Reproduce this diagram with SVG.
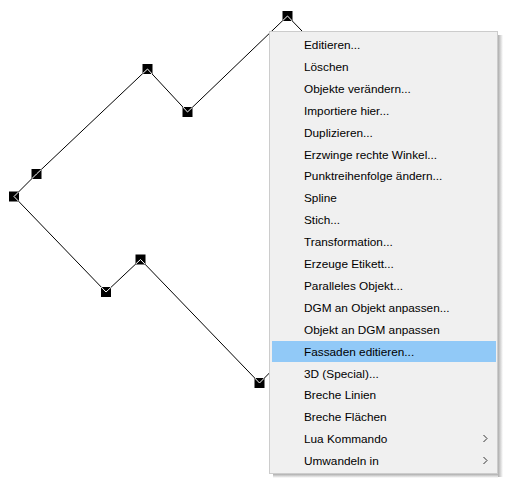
<svg xmlns="http://www.w3.org/2000/svg" width="509" height="489" viewBox="0 0 509 489">
<style>
.ln{fill:none;stroke:#000;stroke-width:1}
.lw{fill:none;stroke:#fff;stroke-width:1}
.mk{fill:#000}
.it{font-family:"Liberation Sans",Arial,sans-serif;font-size:11.8px;fill:#000}
.chev{fill:none;stroke:#333;stroke-width:1}
</style>
<defs>
<clipPath id="mkclip">
<rect x="282.5" y="11" width="10" height="10"/>
<rect x="142.5" y="64" width="10" height="10"/>
<rect x="182.5" y="107" width="10" height="10"/>
<rect x="31.5" y="169" width="10" height="10"/>
<rect x="9" y="191.5" width="10" height="10"/>
<rect x="101" y="287" width="10" height="10"/>
<rect x="135.5" y="254.5" width="10" height="10"/>
<rect x="254.5" y="378" width="10" height="10"/>
</clipPath>
<linearGradient id="shr" x1="0" y1="0" x2="1" y2="0">
<stop offset="0" stop-color="#777" stop-opacity="0.6"/>
<stop offset="1" stop-color="#777" stop-opacity="0"/>
</linearGradient>
<linearGradient id="shb" x1="0" y1="0" x2="0" y2="1">
<stop offset="0" stop-color="#777" stop-opacity="0.6"/>
<stop offset="1" stop-color="#777" stop-opacity="0"/>
</linearGradient>
</defs>
<rect width="509" height="489" fill="#fff"/>
<g id="connectors">
<polyline class="ln" points="330,60 287.5,16 187.5,112 147.5,69 36.5,174 14,196.5 106,292 140.5,259.5 259.5,383 300,342"/>
</g>
<g id="n1"><rect class="mk" x="282.5" y="11" width="10" height="10"/></g>
<g id="n2"><rect class="mk" x="142.5" y="64" width="10" height="10"/></g>
<g id="n3"><rect class="mk" x="182.5" y="107" width="10" height="10"/></g>
<g id="n4"><rect class="mk" x="31.5" y="169" width="10" height="10"/></g>
<g id="n5"><rect class="mk" x="9" y="191.5" width="10" height="10"/></g>
<g id="n6"><rect class="mk" x="101" y="287" width="10" height="10"/></g>
<g id="n7"><rect class="mk" x="135.5" y="254.5" width="10" height="10"/></g>
<g id="n8"><rect class="mk" x="254.5" y="378" width="10" height="10"/></g>
<g clip-path="url(#mkclip)">
<polyline class="lw" points="330,60 287.5,16 187.5,112 147.5,69 36.5,174 14,196.5 106,292 140.5,259.5 259.5,383 300,342"/>
</g>
<g id="menu">
<rect x="498" y="35" width="5" height="442" fill="url(#shr)"/>
<rect x="273" y="474" width="225" height="4" fill="url(#shb)"/>
<rect x="269.5" y="31.5" width="228" height="442" fill="#f0f0f0" stroke="#cccccc"/>
<rect x="272" y="341" width="224" height="21" fill="#91c9f7"/>
<text class="it" x="304" y="49">Editieren...</text>
<text class="it" x="304" y="70.9">Löschen</text>
<text class="it" x="304" y="92.8">Objekte verändern...</text>
<text class="it" x="304" y="114.7">Importiere hier...</text>
<text class="it" x="304" y="136.6">Duplizieren...</text>
<text class="it" x="304" y="158.5">Erzwinge rechte Winkel...</text>
<text class="it" x="304" y="180.4">Punktreihenfolge ändern...</text>
<text class="it" x="304" y="202.3">Spline</text>
<text class="it" x="304" y="224.2">Stich...</text>
<text class="it" x="304" y="246.1">Transformation...</text>
<text class="it" x="304" y="268">Erzeuge Etikett...</text>
<text class="it" x="304" y="289.9">Paralleles Objekt...</text>
<text class="it" x="304" y="311.8">DGM an Objekt anpassen...</text>
<text class="it" x="304" y="333.7">Objekt an DGM anpassen</text>
<text class="it" x="304" y="355.6">Fassaden editieren...</text>
<text class="it" x="304" y="377.5">3D (Special)...</text>
<text class="it" x="304" y="399.4">Breche Linien</text>
<text class="it" x="304" y="421.3">Breche Flächen</text>
<text class="it" x="304" y="443.2">Lua Kommando</text>
<text class="it" x="304" y="465.1">Umwandeln in</text>
<polyline class="chev" points="483.5,435 487,438.5 483.5,442"/>
<polyline class="chev" points="483.5,457 487,460.5 483.5,464"/>
</g>
</svg>
